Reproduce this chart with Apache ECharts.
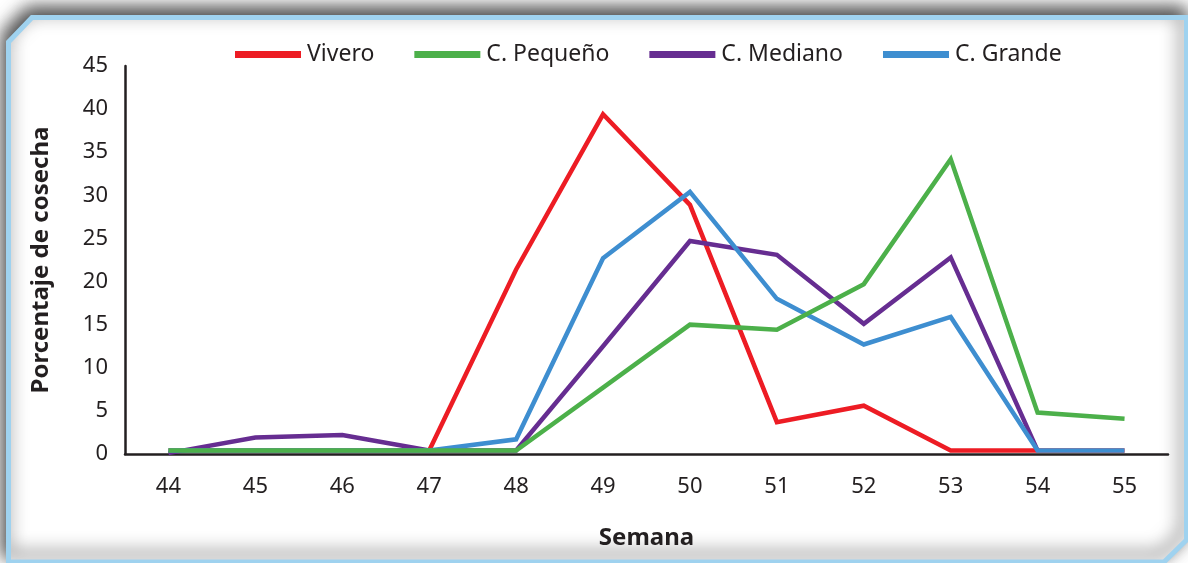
<!DOCTYPE html>
<html>
<head>
<meta charset="utf-8">
<script src="https://cdn.jsdelivr.net/npm/echarts@6/dist/echarts.min.js"></script>
<style>
  html, body {margin: 0; padding: 0; background: #ffffff;}
  #chart {width: 1188px; height: 563px;}
</style>
</head>
<body>
<div id="chart"></div>
<script>
const weeks = ["44", "45", "46", "47", "48", "49", "50", "51", "52", "53", "54", "55"];
const vivero = [0.4, 0.4, 0.4, 0.4, 21.4, 39.4, 28.9, 3.7, 5.6, 0.4, 0.4, 0.4];
const pequeno = [0.4, 0.4, 0.4, 0.4, 0.4, 7.7, 15.0, 14.4, 19.7, 34.2, 4.8, 4.1];
const mediano = [0.1, 1.9, 2.2, 0.4, 0.4, 12.5, 24.7, 23.1, 15.1, 22.8, 0.4, null];
const grande = [0.4, 0.4, 0.4, 0.4, 1.7, 22.7, 30.4, 18.0, 12.7, 15.9, 0.4, 0.4];

const textColor = "#231f20";
const font = "'Noto Sans', 'Open Sans', sans-serif";

const chart = echarts.init(document.getElementById("chart"), null, {renderer: "canvas"});

const lineSeries = (name, data, color, z) => ({
  name: name,
  type: "line",
  data: data,
  symbol: "none",
  z: z,
  lineStyle: {color: color, width: 4.5, join: "miter"},
  itemStyle: {color: color},
});

const option = {
  backgroundColor: "#ffffff",
  animation: false,
  textStyle: {fontFamily: font},
  graphic: [
    {
      type: "polygon",
      z: -10,
      silent: true,
      shape: {
        points: [[8.5, 42], [32, 17.5], [1186.5, 17.5], [1186.5, 540], [1164, 562], [8.5, 562]],
      },
      style: {
        fill: "#ffffff",
        stroke: "#9fd2ef",
        lineWidth: 5,
        shadowColor: "rgba(0,0,0,0.75)",
        shadowBlur: 18,
        shadowOffsetX: -3,
        shadowOffsetY: -7,
      },
    },
  ],
  legend: {
    data: ["Vivero", "C. Pequeño", "C. Mediano", "C. Grande"],
    top: 38,
    left: 230,
    icon: "rect",
    itemWidth: 66,
    itemHeight: 7,
    itemGap: 40,
    textStyle: {fontSize: 23, color: textColor, fontFamily: font, padding: [0, 0, 0, 1]},
  },
  grid: {left: 125, right: 20, top: 66, bottom: 109},
  xAxis: {
    type: "category",
    data: weeks,
    boundaryGap: true,
    name: "Semana",
    nameLocation: "middle",
    nameGap: 72,
    nameTextStyle: {fontSize: 24, fontWeight: "bold", color: textColor, fontFamily: font},
    axisLine: {lineStyle: {color: textColor, width: 2.5}},
    axisTick: {show: false},
    axisLabel: {fontSize: 22, color: textColor, margin: 22, fontFamily: font},
  },
  yAxis: {
    type: "value",
    min: 0,
    max: 45,
    interval: 5,
    name: "Porcentaje de cosecha",
    nameLocation: "middle",
    nameRotate: 90,
    nameGap: 72,
    nameTextStyle: {fontSize: 24, fontWeight: "bold", color: textColor, fontFamily: font},
    axisLine: {show: true, lineStyle: {color: textColor, width: 2.5}},
    axisTick: {show: false},
    splitLine: {show: false},
    axisLabel: {fontSize: 22, color: textColor, margin: 17, fontFamily: font},
  },
  series: [
    lineSeries("Vivero", vivero, "#ed1c24", 3),
    lineSeries("C. Mediano", mediano, "#662d91", 4),
    lineSeries("C. Grande", grande, "#3e8ed0", 5),
    lineSeries("C. Pequeño", pequeno, "#4cb04a", 6),
  ],
};

chart.setOption(option);
</script>
</body>
</html>
